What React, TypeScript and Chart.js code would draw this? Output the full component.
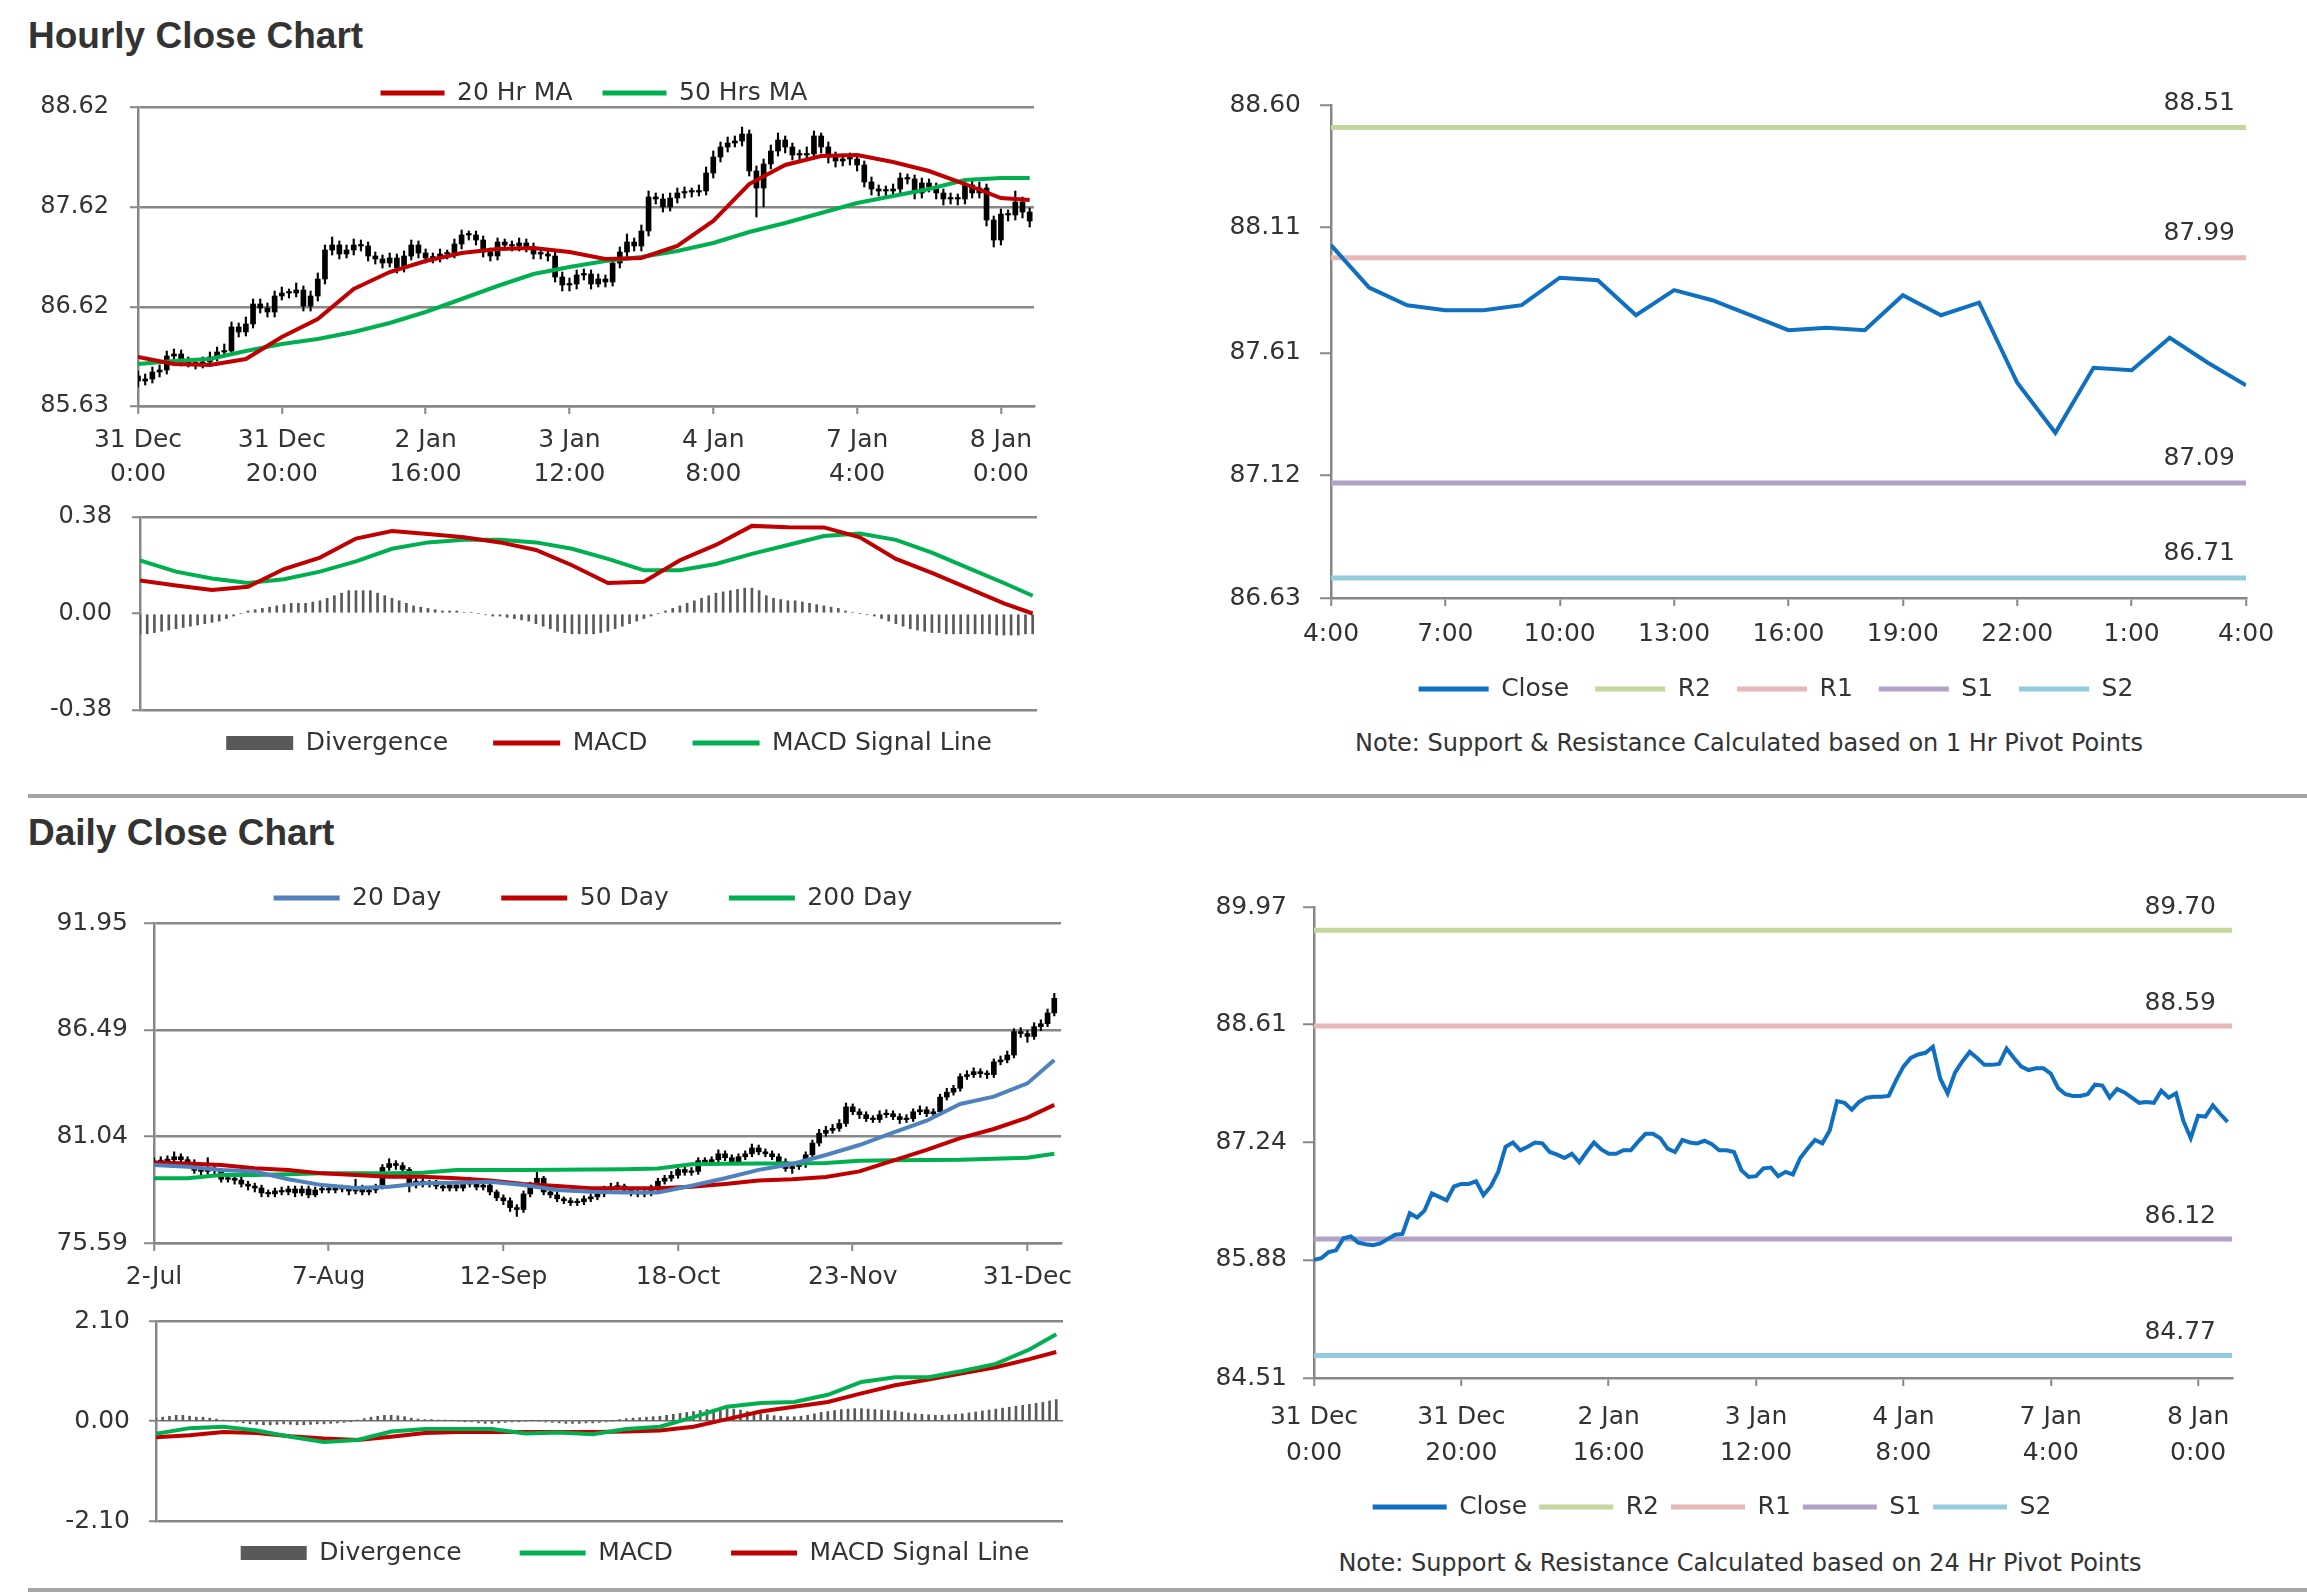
import React, { useEffect, useRef } from 'react';
import { Chart, registerables } from 'chart.js';

Chart.register(...registerables);

// ---------------- DATA ----------------
// Hourly bars (31 Dec 0:00 .. 8 Jan 4:00, trading hours only)
const hourlyTickIdx = [0, 20, 40, 60, 80, 100, 120];
const hourlyTickLabels = [
  ['31 Dec', '0:00'], ['31 Dec', '20:00'], ['2 Jan', '16:00'], ['3 Jan', '12:00'],
  ['4 Jan', '8:00'], ['7 Jan', '4:00'], ['8 Jan', '0:00'],
];
const hourlyClose = [
  85.88, 85.90, 85.97, 85.99, 86.13, 86.15, 86.08, 86.06, 86.05, 86.07,
  86.12, 86.17, 86.18, 86.42, 86.37, 86.45, 86.65, 86.61, 86.57, 86.73,
  86.76, 86.76, 86.79, 86.63, 86.73, 86.90, 87.19, 87.24, 87.15, 87.19,
  87.24, 87.23, 87.13, 87.10, 87.06, 87.11, 87.01, 87.13, 87.24, 87.16,
  87.11, 87.11, 87.15, 87.15, 87.25, 87.34, 87.34, 87.29, 87.17, 87.13,
  87.27, 87.24, 87.23, 87.26, 87.22, 87.15, 87.15, 87.13, 86.92, 86.84,
  86.85, 86.94, 86.95, 86.85, 86.90, 86.87, 87.06, 87.17, 87.27, 87.23,
  87.38, 87.72, 87.70, 87.62, 87.71, 87.76, 87.77, 87.77, 87.78, 87.96,
  88.12, 88.22, 88.26, 88.28, 88.35, 87.98, 87.81, 88.05, 88.18, 88.29,
  88.22, 88.14, 88.14, 88.15, 88.33, 88.22, 88.12, 88.08, 88.10, 88.10,
  88.04, 87.87, 87.80, 87.78, 87.78, 87.80, 87.91, 87.90, 87.76, 87.86,
  87.82, 87.76, 87.70, 87.71, 87.70, 87.84, 87.76, 87.81, 87.49, 87.29,
  87.55, 87.54, 87.67, 87.57, 87.48,
];
const hourlyOpen = [
  85.93, 85.88, 85.90, 85.97, 85.99, 86.13, 86.15, 86.08, 86.06, 86.05,
  86.07, 86.12, 86.17, 86.18, 86.42, 86.37, 86.45, 86.65, 86.61, 86.57,
  86.73, 86.76, 86.76, 86.79, 86.63, 86.73, 86.90, 87.19, 87.24, 87.15,
  87.19, 87.24, 87.23, 87.13, 87.10, 87.06, 87.11, 87.01, 87.13, 87.24,
  87.16, 87.11, 87.11, 87.15, 87.15, 87.25, 87.34, 87.34, 87.29, 87.17,
  87.13, 87.27, 87.24, 87.23, 87.26, 87.22, 87.15, 87.15, 87.13, 86.92,
  86.84, 86.85, 86.94, 86.95, 86.85, 86.90, 86.87, 87.06, 87.17, 87.27,
  87.23, 87.38, 87.72, 87.70, 87.62, 87.71, 87.76, 87.77, 87.77, 87.78,
  87.96, 88.12, 88.22, 88.26, 88.28, 88.35, 87.98, 87.81, 88.05, 88.18,
  88.29, 88.22, 88.14, 88.14, 88.15, 88.33, 88.22, 88.12, 88.08, 88.10,
  88.10, 88.04, 87.87, 87.80, 87.78, 87.78, 87.80, 87.91, 87.90, 87.76,
  87.86, 87.82, 87.76, 87.70, 87.71, 87.70, 87.84, 87.76, 87.81, 87.49,
  87.29, 87.55, 87.54, 87.67, 87.57,
];
const hourlyHigh = [
  85.98, 85.95, 86.02, 86.04, 86.18, 86.20, 86.19, 86.12, 86.10, 86.12,
  86.17, 86.22, 86.25, 86.47, 86.46, 86.52, 86.70, 86.70, 86.66, 86.78,
  86.82, 86.80, 86.86, 86.83, 86.78, 86.96, 87.24, 87.32, 87.28, 87.24,
  87.30, 87.29, 87.27, 87.17, 87.14, 87.16, 87.15, 87.18, 87.29, 87.28,
  87.20, 87.16, 87.20, 87.19, 87.30, 87.39, 87.38, 87.38, 87.33, 87.21,
  87.31, 87.30, 87.28, 87.31, 87.30, 87.26, 87.20, 87.19, 87.17, 86.97,
  86.91, 86.99, 87.00, 86.99, 86.95, 86.94, 87.11, 87.22, 87.35, 87.31,
  87.44, 87.78, 87.76, 87.75, 87.76, 87.81, 87.82, 87.81, 87.84, 88.02,
  88.18, 88.27, 88.32, 88.33, 88.42, 88.39, 88.03, 88.10, 88.24, 88.36,
  88.33, 88.26, 88.19, 88.22, 88.38, 88.36, 88.27, 88.17, 88.15, 88.16,
  88.14, 88.08, 87.92, 87.84, 87.83, 87.85, 87.96, 87.95, 87.94, 87.91,
  87.90, 87.86, 87.80, 87.76, 87.75, 87.89, 87.88, 87.87, 87.85, 87.53,
  87.60, 87.59, 87.78, 87.72, 87.61,
];
const hourlyLow = [
  85.82, 85.84, 85.86, 85.92, 85.95, 86.08, 86.03, 86.02, 86.00, 86.01,
  86.03, 86.08, 86.12, 86.14, 86.32, 86.33, 86.41, 86.56, 86.52, 86.52,
  86.69, 86.71, 86.72, 86.58, 86.58, 86.68, 86.85, 87.14, 87.10, 87.11,
  87.14, 87.18, 87.08, 87.05, 87.01, 87.02, 86.96, 86.97, 87.09, 87.11,
  87.06, 87.06, 87.07, 87.10, 87.11, 87.20, 87.29, 87.24, 87.12, 87.08,
  87.09, 87.19, 87.18, 87.18, 87.17, 87.10, 87.10, 87.08, 86.87, 86.78,
  86.78, 86.80, 86.89, 86.80, 86.82, 86.82, 86.83, 87.01, 87.12, 87.18,
  87.18, 87.33, 87.65, 87.57, 87.58, 87.66, 87.71, 87.72, 87.73, 87.74,
  87.91, 88.07, 88.17, 88.22, 88.23, 87.93, 87.52, 87.62, 88.00, 88.13,
  88.16, 88.09, 88.08, 88.09, 88.10, 88.16, 88.06, 88.02, 88.03, 88.04,
  87.98, 87.82, 87.74, 87.73, 87.72, 87.73, 87.75, 87.85, 87.70, 87.71,
  87.77, 87.70, 87.64, 87.65, 87.64, 87.65, 87.71, 87.71, 87.43, 87.22,
  87.24, 87.48, 87.49, 87.51, 87.42,
];
// hourly moving averages / MACD read every 5 bars
const hourlySampleIdx = [0, 5, 10, 15, 20, 25, 30, 35, 40, 45, 50, 55, 60, 65, 70, 75, 80, 85, 90, 95, 100, 105, 110, 115, 120, 124];
const hourlyMa20 = [86.12, 86.05, 86.04, 86.10, 86.32, 86.50, 86.80, 86.97, 87.08, 87.16, 87.20, 87.21, 87.17, 87.10, 87.11, 87.23, 87.48, 87.85, 88.04, 88.13, 88.14, 88.07, 87.98, 87.85, 87.71, 87.69];
const hourlyMa50 = [86.05, 86.08, 86.10, 86.18, 86.25, 86.30, 86.37, 86.46, 86.57, 86.70, 86.83, 86.95, 87.02, 87.08, 87.12, 87.18, 87.26, 87.37, 87.46, 87.56, 87.66, 87.73, 87.80, 87.89, 87.91, 87.91];
const hourlyMacd = [0.13, 0.11, 0.093, 0.105, 0.175, 0.22, 0.295, 0.325, 0.313, 0.30, 0.28, 0.25, 0.19, 0.12, 0.125, 0.21, 0.27, 0.345, 0.34, 0.339, 0.30, 0.215, 0.16, 0.10, 0.04, 0.0];
const hourlySignal = [0.209, 0.165, 0.138, 0.12, 0.135, 0.165, 0.205, 0.255, 0.28, 0.29, 0.29, 0.28, 0.255, 0.215, 0.17, 0.17, 0.195, 0.235, 0.27, 0.305, 0.315, 0.29, 0.24, 0.18, 0.12, 0.07];
const hourlyDivergence = [
  -0.08, -0.08, -0.075, -0.07, -0.065, -0.06, -0.055, -0.05, -0.045, -0.04,
  -0.035, -0.03, -0.02, -0.01, 0.0, 0.01, 0.015, 0.02, 0.025, 0.03,
  0.035, 0.04, 0.04, 0.04, 0.045, 0.05, 0.06, 0.07, 0.08, 0.09,
  0.09, 0.09, 0.09, 0.08, 0.07, 0.06, 0.05, 0.04, 0.03, 0.025,
  0.02, 0.015, 0.01, 0.01, 0.01, 0.005, 0.005, 0.0, -0.005, -0.01,
  -0.01, -0.015, -0.02, -0.025, -0.03, -0.04, -0.05, -0.06, -0.07, -0.075,
  -0.08, -0.08, -0.08, -0.08, -0.075, -0.07, -0.06, -0.05, -0.04, -0.03,
  -0.02, -0.01, 0.0, 0.01, 0.02, 0.03, 0.04, 0.05, 0.06, 0.07,
  0.08, 0.085, 0.09, 0.095, 0.1, 0.1, 0.09, 0.07, 0.06, 0.055,
  0.05, 0.05, 0.045, 0.04, 0.035, 0.03, 0.025, 0.02, 0.01, 0.005,
  0.0, -0.005, -0.01, -0.02, -0.03, -0.04, -0.05, -0.06, -0.065, -0.07,
  -0.075, -0.075, -0.08, -0.08, -0.08, -0.08, -0.08, -0.08, -0.08, -0.085,
  -0.085, -0.085, -0.085, -0.08, -0.08,
];
const hourlyPriceTicks = [85.63, 86.62, 87.62, 88.62];
const hourlyMacdTicks = [-0.38, 0, 0.38];

// last 24 hours (1 Hr pivots)
const lastDayStart = 100;
const lastDayTickIdx = [0, 3, 6, 9, 12, 15, 18, 21, 24];
const lastDayTickLabels = ['4:00', '7:00', '10:00', '13:00', '16:00', '19:00', '22:00', '1:00', '4:00'];
const pivot1hTicks = [86.63, 87.12, 87.61, 88.11, 88.60];
const pivotNames = ['R2', 'R1', 'S1', 'S2'];
const pivot1hValues = [88.51, 87.99, 87.09, 86.71];
const pivot24hValues = [89.70, 88.59, 86.12, 84.77];
const pivot24hTicks = [84.51, 85.88, 87.24, 88.61, 89.97];

// Daily bars (2-Jul .. early Jan)
const dailyTickIdx = [0, 26, 52, 78, 104, 130];
const dailyTickLabels = ['2-Jul', '7-Aug', '12-Sep', '18-Oct', '23-Nov', '31-Dec'];
const dailyClose = [
  79.75, 79.80, 79.85, 80.00, 79.85, 79.70, 79.30, 79.25, 79.35, 79.30,
  78.85, 78.90, 78.80, 78.60, 78.50, 78.40, 78.15, 78.10, 78.25, 78.20,
  78.35, 78.15, 78.35, 78.05, 78.30, 78.35, 78.30, 78.40, 78.35, 78.25,
  78.40, 78.20, 78.30, 78.45, 79.45, 79.65, 79.55, 79.35, 78.55, 78.75,
  78.60, 78.65, 78.50, 78.40, 78.55, 78.40, 78.60, 78.70, 78.45, 78.55,
  78.20, 77.90, 77.75, 77.40, 77.30, 78.10, 78.55, 78.90, 78.20, 78.05,
  77.85, 77.75, 77.65, 77.70, 77.85, 77.95, 78.10, 78.35, 78.45, 78.50,
  78.30, 78.15, 78.10, 78.15, 78.40, 78.75, 78.90, 79.05, 79.35, 79.20,
  79.25, 79.80, 79.75, 79.85, 80.15, 79.95, 79.75, 80.00, 80.15, 80.45,
  80.25, 80.15, 80.00, 79.75, 79.40, 79.50, 79.60, 80.10, 80.70, 81.20,
  81.35, 81.45, 81.70, 82.55, 82.30, 82.15, 81.95, 81.90, 82.15, 82.20,
  82.05, 81.90, 81.95, 82.30, 82.40, 82.20, 82.30, 83.05, 83.30, 83.50,
  84.10, 84.20, 84.35, 84.25, 84.20, 84.85, 84.95, 85.20, 86.40, 86.30,
  86.15, 86.65, 86.80, 87.35, 88.10,
];
const dailyOpen = [
  79.70, 79.75, 79.80, 79.85, 80.00, 79.85, 79.70, 79.30, 79.25, 79.35,
  79.30, 78.85, 78.90, 78.80, 78.60, 78.50, 78.40, 78.15, 78.10, 78.25,
  78.20, 78.35, 78.15, 78.35, 78.05, 78.30, 78.35, 78.30, 78.40, 78.35,
  78.25, 78.40, 78.20, 78.30, 78.45, 79.45, 79.65, 79.55, 79.35, 78.55,
  78.75, 78.60, 78.65, 78.50, 78.40, 78.55, 78.40, 78.60, 78.70, 78.45,
  78.55, 78.20, 77.90, 77.75, 77.40, 77.30, 78.10, 78.55, 78.90, 78.20,
  78.05, 77.85, 77.75, 77.65, 77.70, 77.85, 77.95, 78.10, 78.35, 78.45,
  78.50, 78.30, 78.15, 78.10, 78.15, 78.40, 78.75, 78.90, 79.05, 79.35,
  79.20, 79.25, 79.80, 79.75, 79.85, 80.15, 79.95, 79.75, 80.00, 80.15,
  80.45, 80.25, 80.15, 80.00, 79.75, 79.40, 79.50, 79.60, 80.10, 80.70,
  81.20, 81.35, 81.45, 81.70, 82.55, 82.30, 82.15, 81.95, 81.90, 82.15,
  82.20, 82.05, 81.90, 81.95, 82.30, 82.40, 82.20, 82.30, 83.05, 83.30,
  83.50, 84.10, 84.20, 84.35, 84.25, 84.20, 84.85, 84.95, 85.20, 86.40,
  86.30, 86.15, 86.65, 86.80, 87.35,
];
const dailyHigh = [
  79.95, 80.00, 80.05, 80.25, 80.15, 80.00, 79.85, 79.45, 79.95, 79.50,
  79.40, 79.05, 79.05, 78.95, 78.75, 78.65, 78.55, 78.30, 78.40, 78.45,
  78.50, 78.50, 78.50, 78.50, 78.45, 78.50, 78.50, 78.55, 78.55, 78.50,
  78.85, 78.55, 78.45, 78.60, 79.60, 79.90, 79.80, 79.70, 79.45, 78.90,
  78.90, 78.80, 78.80, 78.65, 78.70, 78.70, 78.75, 78.95, 78.85, 78.70,
  78.65, 78.30, 78.05, 77.90, 77.55, 78.25, 78.70, 79.20, 79.00, 78.35,
  78.20, 77.95, 77.90, 77.85, 78.00, 78.10, 78.25, 78.50, 78.65, 78.70,
  78.60, 78.40, 78.30, 78.35, 78.55, 78.90, 79.05, 79.25, 79.50, 79.50,
  79.45, 79.95, 79.95, 80.00, 80.35, 80.30, 80.10, 80.15, 80.30, 80.65,
  80.60, 80.40, 80.30, 80.15, 79.90, 79.65, 79.75, 80.25, 80.85, 81.40,
  81.55, 81.65, 81.90, 82.75, 82.70, 82.45, 82.30, 82.10, 82.35, 82.40,
  82.35, 82.20, 82.15, 82.45, 82.60, 82.55, 82.45, 83.20, 83.50, 83.65,
  84.25, 84.40, 84.55, 84.50, 84.40, 85.00, 85.15, 85.40, 86.55, 86.60,
  86.45, 86.85, 87.00, 87.55, 88.35,
];
const dailyLow = [
  79.55, 79.60, 79.65, 79.70, 79.65, 79.50, 79.15, 79.05, 79.10, 79.10,
  78.70, 78.70, 78.60, 78.45, 78.30, 78.20, 77.95, 77.95, 77.95, 78.05,
  78.05, 77.95, 78.00, 77.90, 77.95, 78.15, 78.15, 78.15, 78.20, 78.05,
  78.10, 78.05, 78.05, 78.15, 78.35, 79.30, 79.35, 79.20, 78.20, 78.40,
  78.45, 78.45, 78.35, 78.25, 78.25, 78.25, 78.25, 78.45, 78.30, 78.30,
  78.05, 77.75, 77.55, 77.20, 76.95, 77.15, 77.95, 78.40, 78.05, 77.90,
  77.70, 77.60, 77.50, 77.50, 77.55, 77.70, 77.80, 77.95, 78.20, 78.30,
  78.15, 78.00, 77.95, 77.95, 78.00, 78.25, 78.60, 78.75, 78.90, 79.05,
  79.05, 79.10, 79.60, 79.60, 79.70, 79.80, 79.60, 79.60, 79.85, 80.00,
  80.10, 80.00, 79.85, 79.60, 79.25, 79.15, 79.35, 79.45, 79.95, 80.55,
  81.05, 81.20, 81.30, 81.55, 82.15, 81.95, 81.80, 81.75, 81.75, 82.00,
  81.90, 81.70, 81.75, 81.80, 82.15, 82.05, 82.05, 82.15, 82.90, 83.15,
  83.35, 83.95, 84.05, 84.05, 84.00, 84.05, 84.70, 84.80, 85.05, 86.10,
  85.85, 86.00, 86.45, 86.65, 87.20,
];
// daily moving averages / MACD read every 5 bars
const dailySampleIdx = [0, 5, 10, 15, 20, 25, 30, 35, 40, 45, 50, 55, 60, 65, 70, 75, 80, 85, 90, 95, 100, 105, 110, 115, 120, 125, 130, 134];
const dailyMa20 = [79.58, 79.49, 79.32, 79.24, 78.85, 78.55, 78.40, 78.47, 78.64, 78.67, 78.72, 78.56, 78.30, 78.21, 78.17, 78.17, 78.52, 78.90, 79.33, 79.63, 80.09, 80.60, 81.23, 81.84, 82.70, 83.07, 83.75, 84.95];
const dailyMa50 = [79.70, 79.66, 79.58, 79.41, 79.32, 79.15, 79.07, 78.98, 78.98, 78.90, 78.78, 78.61, 78.51, 78.39, 78.39, 78.39, 78.47, 78.61, 78.78, 78.85, 78.96, 79.25, 79.80, 80.35, 80.95, 81.42, 82.00, 82.65];
const dailyMa200 = [78.90, 78.90, 79.07, 79.07, 79.10, 79.15, 79.15, 79.15, 79.18, 79.32, 79.32, 79.32, 79.33, 79.35, 79.36, 79.40, 79.62, 79.64, 79.65, 79.66, 79.68, 79.80, 79.82, 79.83, 79.84, 79.90, 79.95, 80.15];
const dailyMacd = [-0.27, -0.15, -0.12, -0.20, -0.33, -0.44, -0.40, -0.22, -0.17, -0.17, -0.17, -0.26, -0.24, -0.28, -0.17, -0.12, 0.08, 0.30, 0.38, 0.40, 0.55, 0.82, 0.92, 0.92, 1.05, 1.20, 1.50, 1.82];
const dailySignal = [-0.34, -0.30, -0.23, -0.25, -0.32, -0.37, -0.40, -0.33, -0.25, -0.23, -0.23, -0.23, -0.23, -0.23, -0.22, -0.20, -0.12, 0.04, 0.20, 0.30, 0.40, 0.58, 0.75, 0.87, 1.00, 1.13, 1.30, 1.45];
const dailyDivergence = [
  0.06, 0.08, 0.10, 0.12, 0.12, 0.10, 0.08, 0.08, 0.06, 0.04,
  0.02, 0.0, -0.02, -0.04, -0.06, -0.07, -0.08, -0.08, -0.07, -0.06,
  -0.07, -0.08, -0.08, -0.07, -0.06, -0.06, -0.05, -0.04, -0.03, -0.01,
  0.02, 0.05, 0.08, 0.10, 0.12, 0.12, 0.11, 0.09, 0.06, 0.04,
  0.03, 0.03, 0.02, 0.02, 0.01, 0.0, -0.01, -0.02, -0.04, -0.05,
  -0.05, -0.04, -0.03, -0.02, -0.01, 0.0, 0.01, 0.0, -0.02, -0.03,
  -0.04, -0.05, -0.05, -0.05, -0.04, -0.04, -0.03, -0.02, 0.0, 0.03,
  0.05, 0.06, 0.07, 0.08, 0.09, 0.10, 0.12, 0.14, 0.16, 0.18,
  0.20, 0.22, 0.24, 0.25, 0.26, 0.26, 0.25, 0.23, 0.20, 0.18,
  0.15, 0.13, 0.11, 0.10, 0.09, 0.09, 0.10, 0.12, 0.15, 0.18,
  0.20, 0.22, 0.24, 0.25, 0.26, 0.26, 0.25, 0.24, 0.23, 0.22,
  0.21, 0.19, 0.17, 0.15, 0.14, 0.13, 0.12, 0.12, 0.13, 0.14,
  0.15, 0.17, 0.19, 0.21, 0.23, 0.25, 0.27, 0.29, 0.31, 0.33,
  0.35, 0.37, 0.39, 0.42, 0.45,
];
const dailyPriceTicks = [75.59, 81.04, 86.49, 91.95];
const dailyMacdTicks = [-2.1, 0, 2.1];

// ---------------- STYLE ----------------
const FONT = "'DejaVu Sans', 'Liberation Sans', Arial, sans-serif";
const TITLE_FONT = "'Liberation Sans', Arial, sans-serif";
const TXT = '#333333';
const GRID = '#878787';
const RED = '#c00000';
const GREEN = '#00b050';
const BLUE_MA = '#4f81bd';
const CLOSE_BLUE = '#0f6fc0';
const DIV_GRAY = '#595959';
const PIVOT_COLORS = ['#c3d69b', '#e6b9b8', '#b3a2c7', '#93cddd'];
const LEG_FS = 25;
const HOUR_AXIS_MAX = 124.6;
const DAY_AXIS_MAX = 135;

Chart.defaults.font.family = FONT;
Chart.defaults.color = TXT;

// ---------------- PLUGINS ----------------
const legendPlace = {
  id: 'legendPlace',
  afterLayout(chart: any, _args: any, o: any) {
    const lg = chart.legend;
    if (!lg || !o || typeof o.cx !== 'number') return;
    const dx = o.cx - (lg.left + lg.right) / 2;
    const dy = o.cy - (lg.top + o.pad + o.fs / 2);
    lg.left += dx;
    lg.right += dx;
    lg.top += dy;
    lg.bottom += dy;
  },
};

const pivotLabels = {
  id: 'pivotLabels',
  afterDatasetsDraw(chart: any, _args: any, o: any) {
    if (!o || !o.values) return;
    const { ctx, chartArea } = chart;
    const ys = chart.scales.y;
    ctx.save();
    ctx.font = `${o.fs}px ${FONT}`;
    ctx.fillStyle = TXT;
    ctx.textAlign = 'right';
    ctx.textBaseline = 'middle';
    for (const v of o.values) {
      ctx.fillText(Number(v).toFixed(2), chartArea.right - o.inset, ys.getPixelForValue(v) - o.rise);
    }
    ctx.restore();
  },
};

// ---------------- HELPERS ----------------
type Area = { l: number; r: number; t: number; b: number };

function scaleCfg(ax: any, isX: boolean) {
  return {
    type: 'linear',
    display: ax.display !== false,
    offset: false,
    min: ax.min,
    max: ax.max,
    afterBuildTicks: (s: any) => {
      s.ticks = ax.ticks.map((v: number) => ({ value: v }));
    },
    afterFit: (s: any) => {
      if (ax.size != null) {
        if (isX) s.height = ax.size;
        else s.width = ax.size;
      }
    },
    ticks: {
      autoSkip: false,
      maxRotation: 0,
      minRotation: 0,
      padding: ax.pad,
      color: TXT,
      font: { family: FONT, size: ax.fs, lineHeight: ax.lineHeight || 1.2 },
      callback: (v: number) => (ax.labels ? ax.labels[ax.ticks.indexOf(v)] : Number(v).toFixed(2)),
    },
    grid: {
      offset: false,
      drawOnChartArea: !!ax.gridOnArea,
      drawTicks: true,
      tickLength: ax.tickLen,
      color: (c: any) => {
        if (c && c.tick && c.tick.value === 0 && ax.zero === 'hide') return 'rgba(0,0,0,0)';
        if (c && c.tick && c.tick.value === 0 && ax.zero === 'thin') return '#6e6e6e';
        return GRID;
      },
      lineWidth: (c: any) => (c && c.tick && c.tick.value === 0 && ax.zero === 'thin' ? 1.5 : 2.5),
      tickColor: GRID,
      tickWidth: 2,
    },
    border: { display: true, color: GRID, width: 2.5 },
  };
}

function lineDs(label: string, xs: number[], ys: number[], color: string, lw: number, order = 0) {
  return {
    type: 'line',
    label,
    data: xs.map((x, i) => ({ x, y: ys[i] })),
    borderColor: color,
    backgroundColor: color,
    borderWidth: lw,
    pointRadius: 0,
    fill: false,
    tension: 0,
    order,
  };
}

function candleDs(open: number[], high: number[], low: number[], close: number[], wickW: number, bodyW: number) {
  return [
    {
      type: 'bar', label: 'wick',
      data: close.map((_c, i) => ({ x: i, y: [low[i], high[i]] })),
      backgroundColor: '#000000', barThickness: wickW, grouped: false, order: 2,
    },
    {
      type: 'bar', label: 'body',
      data: close.map((c, i) => ({ x: i, y: [open[i], c] })),
      backgroundColor: '#000000', barThickness: bodyW, grouped: false, minBarLength: 1.5, order: 2,
    },
  ];
}

function divergenceDs(values: number[]) {
  return {
    type: 'bar', label: 'Divergence',
    data: values.map((v, i) => ({ x: i, y: v })),
    backgroundColor: DIV_GRAY, barThickness: 2, grouped: false, order: 2,
  };
}

function buildChart(s: any) {
  const legH = LEG_FS + s.legend.pad + 10;
  const topLeg = s.legend.position === 'top' ? legH : 0;
  const botLeg = s.legend.position === 'bottom' ? legH : 0;
  const xH = s.x.display === false ? 0 : s.x.size || 0;
  // the y scale needs half a label height plus its tick padding above the chart area
  const yNeed = Math.ceil(s.y.fs * 0.6 + s.y.pad) + 1;
  const padT = topLeg ? 0 : Math.max(s.padT, yNeed);
  const rx = s.area.l - s.yW;
  const ry = s.area.t - padT - topLeg;
  const rect = { x: rx, y: ry, w: s.area.r + s.padR - rx, h: s.area.b + xH + botLeg - ry };
  const config = {
    type: 'line',
    data: { datasets: s.datasets },
    options: {
      responsive: false,
      maintainAspectRatio: false,
      animation: false,
      events: [],
      layout: { padding: { left: 0, right: s.padR, top: padT, bottom: 0 } },
      scales: { x: scaleCfg(s.x, true), y: scaleCfg({ ...s.y, size: s.yW }, false) },
      plugins: {
        tooltip: { enabled: false },
        title: { display: false },
        legend: {
          display: true,
          position: s.legend.position,
          labels: {
            usePointStyle: true,
            pointStyleWidth: s.legend.boxW,
            boxWidth: s.legend.boxW,
            boxHeight: s.legend.boxH,
            padding: s.legend.pad,
            color: TXT,
            font: { family: FONT, size: LEG_FS },
            generateLabels: () =>
              s.legend.items.map((it: any, i: number) => ({
                text: it.text,
                fillStyle: it.color,
                strokeStyle: it.color,
                lineWidth: it.style === 'line' ? it.lw : 0,
                pointStyle: it.style,
                hidden: false,
                datasetIndex: i,
                fontColor: TXT,
              })),
          },
        },
        legendPlace: { cx: s.legend.cx - rx, cy: s.legend.cy - ry, pad: s.legend.pad, fs: LEG_FS },
        pivotLabels: s.pivots ? { values: s.pivots.values, inset: s.pivots.inset, rise: s.pivots.rise, fs: 25 } : {},
      },
    },
    plugins: [legendPlace, pivotLabels],
  };
  return { rect, config };
}

function ChartCanvas({ spec }: { spec: any }) {
  const ref = useRef<HTMLCanvasElement | null>(null);
  const { rect, config } = buildChart(spec);
  useEffect(() => {
    if (!ref.current) return;
    const chart = new Chart(ref.current, config as any);
    return () => chart.destroy();
  }, []);
  return (
    <canvas
      ref={ref}
      width={rect.w}
      height={rect.h}
      style={{ position: 'absolute', left: rect.x, top: rect.y, width: rect.w, height: rect.h }}
    />
  );
}

// ---------------- CHART SPECS ----------------
const pivotLegendItems = [
  { text: 'Close', color: CLOSE_BLUE, style: 'line', lw: 5 },
  ...pivotNames.map((n, k) => ({ text: n, color: PIVOT_COLORS[k], style: 'line', lw: 5 })),
];

const hourlyCandleSpec = {
  area: { l: 138, r: 1034, t: 107, b: 406 } as Area,
  yW: 100, padR: 40, padT: 0,
  x: { min: 0, max: HOUR_AXIS_MAX, ticks: hourlyTickIdx, labels: hourlyTickLabels, tickLen: 8, pad: 9, fs: 25, lineHeight: 1.36, gridOnArea: false, size: 90 },
  y: { min: 85.63, max: 88.62, ticks: hourlyPriceTicks, tickLen: 8, pad: 21, fs: 24, gridOnArea: true },
  datasets: [
    lineDs('20 Hr MA', hourlySampleIdx, hourlyMa20, RED, 4),
    lineDs('50 Hrs MA', hourlySampleIdx, hourlyMa50, GREEN, 4),
    ...candleDs(hourlyOpen, hourlyHigh, hourlyLow, hourlyClose, 1.5, 5),
  ],
  legend: {
    position: 'top', pad: 30, boxW: 64, boxH: 10, cx: 594, cy: 93,
    items: [
      { text: '20 Hr MA', color: RED, style: 'line', lw: 5 },
      { text: '50 Hrs MA', color: GREEN, style: 'line', lw: 5 },
    ],
  },
};

const hourlyMacdSpec = {
  area: { l: 140, r: 1037, t: 517, b: 710 } as Area,
  yW: 100, padR: 40, padT: 20,
  x: { display: false, min: 0, max: HOUR_AXIS_MAX, ticks: hourlyTickIdx, tickLen: 0, pad: 0, fs: 25 },
  y: { min: -0.38, max: 0.38, ticks: hourlyMacdTicks, tickLen: 8, pad: 20, fs: 24, gridOnArea: true, zero: 'hide' },
  datasets: [
    lineDs('MACD', hourlySampleIdx, hourlyMacd, RED, 4),
    lineDs('MACD Signal Line', hourlySampleIdx, hourlySignal, GREEN, 4),
    divergenceDs(hourlyDivergence),
  ],
  legend: {
    position: 'bottom', pad: 45, boxW: 67, boxH: 14, cx: 609, cy: 743,
    items: [
      { text: 'Divergence', color: DIV_GRAY, style: 'rect', lw: 0 },
      { text: 'MACD', color: RED, style: 'line', lw: 5 },
      { text: 'MACD Signal Line', color: GREEN, style: 'line', lw: 5 },
    ],
  },
};

const lastDayClose = hourlyClose.slice(lastDayStart);
const lastDayX = lastDayClose.map((_v, i) => i);

const hourlyPivotSpec = {
  area: { l: 1331, r: 2246, t: 105, b: 598 } as Area,
  yW: 100, padR: 45, padT: 20,
  x: { min: 0, max: 24, ticks: lastDayTickIdx, labels: lastDayTickLabels, tickLen: 8, pad: 13, fs: 25, gridOnArea: false, size: 60 },
  y: { min: 86.63, max: 88.60, ticks: pivot1hTicks, tickLen: 11, pad: 19, fs: 25, gridOnArea: false },
  datasets: [
    lineDs('Close', lastDayX, lastDayClose, CLOSE_BLUE, 4, 0),
    ...pivotNames.map((n, k) => lineDs(n, [0, 24], [pivot1hValues[k], pivot1hValues[k]], PIVOT_COLORS[k], 5, 1)),
  ],
  legend: { position: 'bottom', pad: 26, boxW: 70, boxH: 10, cx: 1776, cy: 689, items: pivotLegendItems },
  pivots: { values: pivot1hValues, inset: 11, rise: 24 },
};

const dailyCandleSpec = {
  area: { l: 154, r: 1061, t: 923, b: 1243 } as Area,
  yW: 100, padR: 30, padT: 0,
  x: { min: 0, max: DAY_AXIS_MAX, ticks: dailyTickIdx, labels: dailyTickLabels, tickLen: 8, pad: 11, fs: 25, gridOnArea: false, size: 60 },
  y: { min: 75.59, max: 91.95, ticks: dailyPriceTicks, tickLen: 10, pad: 16, fs: 25, gridOnArea: true },
  datasets: [
    lineDs('20 Day', dailySampleIdx, dailyMa20, BLUE_MA, 4),
    lineDs('50 Day', dailySampleIdx, dailyMa50, RED, 4),
    lineDs('200 Day', dailySampleIdx, dailyMa200, GREEN, 4),
    ...candleDs(dailyOpen, dailyHigh, dailyLow, dailyClose, 1.5, 5),
  ],
  legend: {
    position: 'top', pad: 60, boxW: 66, boxH: 10, cx: 593, cy: 898,
    items: [
      { text: '20 Day', color: BLUE_MA, style: 'line', lw: 5 },
      { text: '50 Day', color: RED, style: 'line', lw: 5 },
      { text: '200 Day', color: GREEN, style: 'line', lw: 5 },
    ],
  },
};

const dailyMacdSpec = {
  area: { l: 156, r: 1063, t: 1321, b: 1521 } as Area,
  yW: 100, padR: 30, padT: 20,
  x: { display: false, min: 0, max: DAY_AXIS_MAX, ticks: dailyTickIdx, tickLen: 0, pad: 0, fs: 25 },
  y: { min: -2.1, max: 2.1, ticks: dailyMacdTicks, tickLen: 7, pad: 19, fs: 25, gridOnArea: true, zero: 'thin' },
  datasets: [
    lineDs('MACD', dailySampleIdx, dailyMacd, GREEN, 4),
    lineDs('MACD Signal Line', dailySampleIdx, dailySignal, RED, 4),
    divergenceDs(dailyDivergence),
  ],
  legend: {
    position: 'bottom', pad: 58, boxW: 66, boxH: 14, cx: 635, cy: 1553,
    items: [
      { text: 'Divergence', color: DIV_GRAY, style: 'rect', lw: 0 },
      { text: 'MACD', color: GREEN, style: 'line', lw: 5 },
      { text: 'MACD Signal Line', color: RED, style: 'line', lw: 5 },
    ],
  },
};

const hourlyX = hourlyClose.map((_v, i) => i);

const dailyPivotSpec = {
  area: { l: 1314, r: 2232, t: 907, b: 1378 } as Area,
  yW: 100, padR: 40, padT: 20,
  x: { min: 0, max: HOUR_AXIS_MAX, ticks: hourlyTickIdx, labels: hourlyTickLabels, tickLen: 8, pad: 13, fs: 25, lineHeight: 1.44, gridOnArea: false, size: 100 },
  y: { min: 84.51, max: 89.97, ticks: pivot24hTicks, tickLen: 11, pad: 16, fs: 25, gridOnArea: false },
  datasets: [
    lineDs('Close', hourlyX, hourlyClose, CLOSE_BLUE, 4, 0),
    ...pivotNames.map((n, k) => lineDs(n, [0, HOUR_AXIS_MAX], [pivot24hValues[k], pivot24hValues[k]], PIVOT_COLORS[k], 5, 1)),
  ],
  legend: { position: 'bottom', pad: 12, boxW: 74, boxH: 10, cx: 1712, cy: 1507, items: pivotLegendItems },
  pivots: { values: pivot24hValues, inset: 16, rise: 23 },
};

// ---------------- APP ----------------
const titleStyle: React.CSSProperties = {
  position: 'absolute', left: 28, fontFamily: TITLE_FONT, fontWeight: 'bold',
  fontSize: 37, lineHeight: '37px', color: TXT, whiteSpace: 'nowrap',
};
const noteStyle: React.CSSProperties = {
  position: 'absolute', width: 1200, textAlign: 'center', fontFamily: FONT,
  fontSize: 24, lineHeight: '24px', color: TXT, whiteSpace: 'nowrap',
};
const sepStyle: React.CSSProperties = {
  position: 'absolute', left: 28, width: 2279, height: 4, background: '#a6a6a6',
};

export default function App() {
  return (
    <div style={{ position: 'absolute', left: 0, top: 0, width: 2307, height: 1592, overflow: 'hidden', background: '#ffffff' }}>
      <div style={{ ...titleStyle, top: 17 }}>Hourly Close Chart</div>
      <ChartCanvas spec={hourlyCandleSpec} />
      <ChartCanvas spec={hourlyMacdSpec} />
      <ChartCanvas spec={hourlyPivotSpec} />
      <div style={{ ...noteStyle, left: 1749 - 600, top: 731 }}>
        Note: Support &amp; Resistance Calculated based on 1 Hr Pivot Points
      </div>
      <div style={{ ...sepStyle, top: 794 }} />
      <div style={{ ...titleStyle, top: 814 }}>Daily Close Chart</div>
      <ChartCanvas spec={dailyCandleSpec} />
      <ChartCanvas spec={dailyMacdSpec} />
      <ChartCanvas spec={dailyPivotSpec} />
      <div style={{ ...noteStyle, left: 1740 - 600, top: 1551 }}>
        Note: Support &amp; Resistance Calculated based on 24 Hr Pivot Points
      </div>
      <div style={{ ...sepStyle, top: 1588 }} />
    </div>
  );
}
